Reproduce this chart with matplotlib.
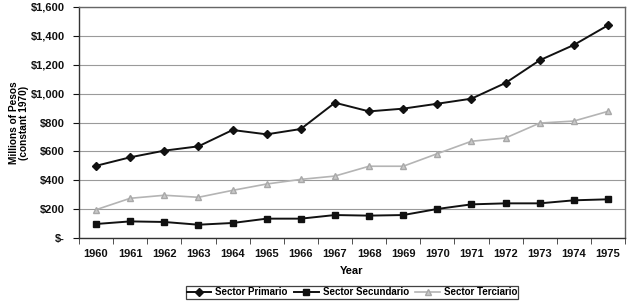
import matplotlib
matplotlib.use("Agg")
import matplotlib.pyplot as plt
from matplotlib.ticker import FuncFormatter, FixedLocator

plt.rcParams['font.family'] = ['Liberation Sans', 'DejaVu Sans']
plt.rcParams['font.weight'] = 'bold'

years = [str(y) for y in range(1960, 1976)]
primario = [500, 559, 605, 635, 748, 718, 755, 937, 877, 896, 930, 965, 1074, 1231, 1337, 1473]
secundario = [97, 115, 111, 92, 104, 134, 134, 159, 155, 159, 201, 233, 240, 240, 261, 268]
terciario = [196, 275, 296, 282, 330, 374, 406, 429, 497, 497, 584, 670, 693, 796, 810, 877]

fig = plt.figure(figsize=(6.3, 3.01), dpi=100)
ax = fig.add_axes([79/630, 1-238/301, (625-79)/630, (238-7)/301])

x = list(range(len(years)))
ax.plot(x, primario, color='#111111', lw=1.4, marker='D', ms=4, label='Sector Primario', zorder=4)
ax.plot(x, secundario, color='#111111', lw=1.4, marker='s', ms=4.5, label='Sector Secundario', zorder=4)
ax.plot(x, terciario, color='#b4b4b4', lw=1.2, marker='^', ms=4, mfc='#c8c8c8', mec='#a8a8a8',
        label='Sector Terciario', zorder=3)

ax.set_xlim(-0.5, len(years) - 0.5)
ax.set_ylim(0, 1600)
ax.set_yticks(range(0, 1601, 200))
ax.yaxis.set_major_formatter(FuncFormatter(lambda v, p: '$-' if v == 0 else '${:,.0f}'.format(v)))
ax.yaxis.grid(True, color='#9a9a9a', lw=0.8)
ax.set_axisbelow(True)

ax.set_xticks(x)
ax.set_xticklabels(years)
ax.tick_params(axis='x', which='major', length=0, pad=8)
ax.xaxis.set_minor_locator(FixedLocator([i - 0.5 for i in range(len(years) + 1)]))
ax.tick_params(axis='x', which='minor', length=4, direction='out', color='#333333')
ax.tick_params(axis='y', length=4, direction='out', color='#333333', pad=6)
ax.tick_params(labelsize=8, colors='#111111')

for s in ax.spines.values():
    s.set_color('#333333')
    s.set_linewidth(1.0)
ax.spines['top'].set_color('#666666')
ax.spines['right'].set_color('#666666')

ax.set_xlabel('Year', fontsize=8, fontweight='bold', labelpad=5)
ax.set_ylabel('Millions of Pesos\n(constant 1970)', fontsize=7.3, fontweight='bold',
              linespacing=1.0)
ax.yaxis.set_label_coords((29 - 79) / 546, 0.5)

leg = fig.legend(loc='upper center', bbox_to_anchor=(352/630, 1-286/301), ncol=3, frameon=True,
                 fancybox=False, edgecolor='#111111', fontsize=7, handlelength=2.5,
                 borderpad=0.15, columnspacing=0.7, handletextpad=0.4, borderaxespad=0)
leg.get_frame().set_linewidth(0.9)

fig.savefig('out.png', dpi=100)
